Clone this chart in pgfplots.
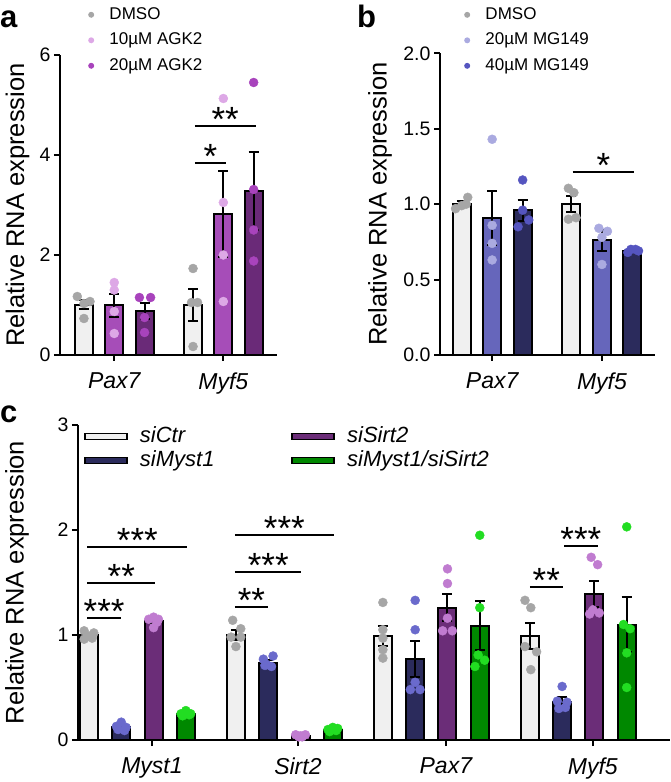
\documentclass[border=0pt]{standalone}
\usepackage{pgfplots}
\pgfplotsset{compat=1.18}
\usepackage{fontspec}
\setmainfont{Liberation Sans}
\definecolor{ctrfill}{HTML}{F0F0F0}
\definecolor{ctrpt}{HTML}{A6A6A6}
\definecolor{agkAbar}{HTML}{A64DB8}
\definecolor{agkApt}{HTML}{DDA8E6}
\definecolor{agkBbar}{HTML}{6A2A78}
\definecolor{agkBpt}{HTML}{A843BC}
\definecolor{mgAbar}{HTML}{6666BB}
\definecolor{mgApt}{HTML}{AAAAE0}
\definecolor{mgBbar}{HTML}{2B2B5C}
\definecolor{mgBpt}{HTML}{5555C0}
\definecolor{myBar}{HTML}{2B2B5C}
\definecolor{myPt}{HTML}{6A6ACC}
\definecolor{siBar}{HTML}{6B2D78}
\definecolor{siPt}{HTML}{C07CD0}
\definecolor{dbBar}{HTML}{008800}
\definecolor{dbPt}{HTML}{22DD22}
\tikzset{
  sigline/.style={line width=2pt, black},
  star/.style={font=\fontsize{35}{35}\selectfont, anchor=base, inner sep=0pt, yshift=-5.5pt},
}
\pgfplotsset{
  panel/.style={
    scale only axis,
    axis lines=left,
    axis line style={-, line width=2pt, black},
    tick style={line width=2pt, black},
    major tick length=6pt,
    tick align=outside,
    /pgf/number format/assume math mode=true,
    yticklabel style={font=\fontsize{19.5}{22}\selectfont},
    xticklabel style={font=\fontsize{23}{26}\selectfont\itshape, yshift=-8pt},
    ylabel style={font=\fontsize{25.5}{28}\selectfont},
    ylabel={Relative RNA expression},
    clip=false,
    legend cell align=left,
  },
  dotlegend/.style={
    legend style={anchor=north west, draw=none, fill=none,
      font=\fontsize{17}{20}\selectfont, row sep=4.5pt, inner sep=0pt,
      nodes={inner xsep=1pt, inner ysep=2pt, text height=13pt, text depth=4pt}},
    legend image code/.code={\fill[draw=none] (0pt,0pt) circle (3pt); \path[draw=none, fill=none] (-3pt,0pt) -- (17.3pt,0pt);},
  },
  swatchA/.style={legend image code/.code={\draw[draw=black, line width=1.5pt] (0pt,-3pt) rectangle (42pt,3pt); \path[draw=none, fill=none] (0pt,0pt) -- (54pt,0pt);}},
  swatchB/.style={legend image code/.code={\path[draw=none, fill=none] (-76.7pt,0pt) -- (0pt,0pt); \draw[draw=black, line width=1.5pt] (0pt,-3pt) rectangle (42pt,3pt); \path[draw=none, fill=none] (0pt,0pt) -- (54pt,0pt);}},
  barstyle/.style={ybar, bar width=18pt, bar shift=0pt, draw=black, line width=2pt, fill=#1, forget plot},
  ptstyle/.style={only marks, mark=*, mark size=4.5pt, color=#1, mark options={draw=#1, fill=#1}, forget plot},
  errstyle/.style={forget plot, draw=none, mark=none, error bars/.cd, y dir=both, y explicit,
    error bar style={draw=black, line width=2pt}, error mark options={draw=black, line width=2pt, mark size=5pt, rotate=90}},
}
\begin{document}
\begin{tikzpicture}
\path[use as bounding box] (0pt,0pt) rectangle (670pt,782pt);
\node[anchor=base west, font=\bfseries\fontsize{31}{31}\selectfont, inner sep=0pt] at (0pt,754pt) {a};
\node[anchor=base west, font=\bfseries\fontsize{31}{31}\selectfont, inner sep=0pt] at (357pt,754pt) {b};
\node[anchor=base west, font=\bfseries\fontsize{31}{31}\selectfont, inner sep=0pt] at (0pt,359pt) {c};

% ---------------- panel a
\begin{axis}[panel, dotlegend, at={(60pt,427pt)}, anchor=south west,
  width=217pt, height=300pt,
  xmin=-0.79, xmax=6.37, ymin=0, ymax=6,
  ytick={0,2,4,6}, xtick={1,4.6}, xticklabels={Pax7,Myf5},
  ylabel style={at={(axis description cs:-0.196,0.5)}, anchor=center},
  legend style={at={(axis description cs:0.129,1.1697)}},
]
\addlegendimage{fill=ctrpt}\addlegendentry{DMSO}
\addlegendimage{fill=agkApt}\addlegendentry{10µM AGK2}
\addlegendimage{fill=agkBpt}\addlegendentry{20µM AGK2}
\addplot[barstyle=ctrfill] coordinates {(0,1.0) (3.6,0.99)};
\addplot[barstyle=agkAbar] coordinates {(1,0.99) (4.6,2.82)};
\addplot[barstyle=agkBbar] coordinates {(2,0.88) (5.6,3.28)};
\addplot[ptstyle=ctrpt] coordinates {(-0.22,1.17) (0.2,1.07) (0,1.03) (0,0.73) (3.6,1.73) (3.55,1.05) (3.75,1.05) (3.6,0.17)};
\addplot[ptstyle=agkApt] coordinates {(1,1.45) (1,1.3) (1,0.87) (1,0.43) (4.6,5.13) (4.6,3.05) (4.6,2.0) (4.6,1.07)};
\addplot[ptstyle=agkBpt] coordinates {(1.83,1.15) (2.2,1.15) (2,0.75) (2,0.45) (5.6,5.45) (5.6,3.31) (5.6,2.5) (5.6,1.88)};
\addplot[errstyle] coordinates {(0,1.0) +- (0,0.09) (1,0.99) +- (0,0.23) (2,0.88) +- (0,0.16)
  (3.6,0.99) +- (0,0.32) (4.6,2.82) +- (0,0.86) (5.6,3.28) +- (0,0.78)};
\draw[sigline] (axis cs:3.66,3.83) -- (axis cs:4.69,3.83);
\node[star] at (axis cs:4.17,3.83) {*};
\draw[sigline] (axis cs:3.66,4.58) -- (axis cs:5.67,4.58);
\node[star] at (axis cs:4.66,4.58) {**};
\end{axis}

% ---------------- panel b
\begin{axis}[panel, dotlegend, at={(440pt,427pt)}, anchor=south west,
  width=215pt, height=301.7pt,
  xmin=-0.71, xmax=6.34, ymin=0, ymax=2,
  ytick={0,0.5,1,1.5,2}, xtick={1,4.6}, xticklabels={Pax7,Myf5},
  yticklabel style={/pgf/number format/.cd, fixed, fixed zerofill, precision=1},
  ylabel style={at={(axis description cs:-0.279,0.5)}, anchor=center},
  legend style={at={(axis description cs:0.1116,1.163)}},
]
\addlegendimage{fill=ctrpt}\addlegendentry{DMSO}
\addlegendimage{fill=mgApt}\addlegendentry{20µM MG149}
\addlegendimage{fill=mgBpt}\addlegendentry{40µM MG149}
\addplot[barstyle=ctrfill] coordinates {(0,1.0) (3.6,1.0)};
\addplot[barstyle=mgAbar] coordinates {(1,0.91) (4.6,0.76)};
\addplot[barstyle=mgBbar] coordinates {(2,0.96) (5.6,0.69)};
\addplot[ptstyle=ctrpt] coordinates {(-0.2,0.97) (0.15,1.0) (0.2,1.045) (0,0.99) (3.5,1.105) (3.68,1.076) (3.5,0.9) (3.75,0.91)};
\addplot[ptstyle=mgApt] coordinates {(1,1.43) (1,0.86) (1,0.74) (1,0.63) (4.5,0.84) (4.78,0.82) (4.6,0.78) (4.6,0.6)};
\addplot[ptstyle=mgBpt] coordinates {(2,1.16) (1.85,0.85) (2.2,0.895) (2,0.96) (5.45,0.68) (5.55,0.7) (5.7,0.7) (5.8,0.69)};
\addplot[errstyle] coordinates {(0,1.0) +- (0,0.02) (1,0.91) +- (0,0.18) (2,0.96) +- (0,0.07)
  (3.6,1.0) +- (0,0.055) (4.6,0.76) +- (0,0.07) (5.6,0.69) +- (0,0.01)};
\draw[sigline] (axis cs:3.64,1.215) -- (axis cs:5.65,1.215);
\node[star] at (axis cs:4.65,1.215) {*};
\end{axis}

% ---------------- panel c
\begin{axis}[panel, at={(78pt,42pt)}, anchor=south west,
  width=592pt, height=315pt,
  xmin=-0.34, xmax=17.99, ymin=0, ymax=3,
  ytick={0,1,2,3}, xtick={1.95,6.47,11.05,15.6}, xticklabels={Myst1,Sirt2,Pax7,Myf5},
  ylabel style={at={(axis description cs:-0.103,0.5)}, anchor=center},
  legend columns=2,
  legend style={at={(axis description cs:0.0101,1.0)}, anchor=north west, draw=none, fill=none,
    font=\fontsize{22}{24}\selectfont\itshape, row sep=1pt, inner sep=0pt,
    nodes={inner xsep=1pt, inner ysep=1pt, text height=16pt, text depth=5pt}},
]
\addlegendimage{swatchA, fill=ctrfill}\addlegendentry{siCtr}
\addlegendimage{swatchB, fill=siBar}\addlegendentry{siSirt2}
\addlegendimage{swatchA, fill=myBar}\addlegendentry{siMyst1}
\addlegendimage{swatchB, fill=dbBar}\addlegendentry{siMyst1/siSirt2}
\addplot[barstyle=ctrfill] coordinates {(0,1.0) (4.55,1.0) (9.1,0.99) (13.65,0.99)};
\addplot[barstyle=myBar] coordinates {(1,0.12) (5.55,0.73) (10.1,0.77) (14.65,0.36)};
\addplot[barstyle=siBar] coordinates {(2,1.13) (6.55,0.04) (11.1,1.26) (15.65,1.39)};
\addplot[barstyle=dbBar] coordinates {(3,0.25) (7.55,0.10) (12.1,1.09) (16.65,1.10)};
\addplot[ptstyle=ctrpt] coordinates {(-0.15,1.04) (0.15,1.02) (0,0.99) (-0.15,0.96) (0.1,0.97)
  (4.45,1.14) (4.7,1.06) (4.4,0.98) (4.7,0.98) (4.55,0.89)
  (9.1,1.31) (9.1,1.05) (9.1,0.97) (9.1,0.86) (9.1,0.78)
  (13.5,1.33) (13.68,1.26) (13.5,0.89) (13.86,0.84) (13.68,0.67)};
\addplot[ptstyle=myPt] coordinates {(1,0.17) (0.85,0.13) (1.15,0.12) (0.9,0.1) (1.1,0.09)
  (5.4,0.77) (5.7,0.8) (5.5,0.72) (5.65,0.7) (5.45,0.71)
  (10.1,1.33) (10.1,1.05) (10.1,0.55) (9.95,0.48) (10.25,0.48)
  (14.65,0.51) (14.5,0.37) (14.8,0.36) (14.55,0.3) (14.75,0.31)};
\addplot[ptstyle=siPt] coordinates {(1.85,1.15) (2.15,1.15) (2,1.17) (2,1.07) (2.1,1.12)
  (6.4,0.05) (6.7,0.05) (6.5,0.03) (6.6,0.03) (6.55,0.04)
  (11.1,1.63) (11.1,1.49) (11.1,1.16) (10.95,1.04) (11.25,1.04)
  (15.55,1.74) (15.75,1.67) (15.6,1.24) (15.8,1.21) (15.5,1.2)};
\addplot[ptstyle=dbPt] coordinates {(2.85,0.25) (3.15,0.25) (3,0.28) (2.9,0.23) (3.1,0.24)
  (7.4,0.1) (7.7,0.11) (7.55,0.12) (7.45,0.08) (7.65,0.09)
  (12.1,1.95) (12.1,1.26) (12.05,0.81) (12.25,0.76) (11.95,0.7)
  (16.65,2.03) (16.55,1.1) (16.75,1.06) (16.65,0.83) (16.65,0.5)};
\addplot[errstyle] coordinates {(0,1.0) +- (0,0.02) (1,0.12) +- (0,0.02) (2,1.13) +- (0,0.02) (3,0.25) +- (0,0.01)
  (4.55,1.0) +- (0,0.05) (5.55,0.73) +- (0,0.03) (6.55,0.04) +- (0,0.01) (7.55,0.10) +- (0,0.01)
  (9.1,0.99) +- (0,0.095) (10.1,0.77) +- (0,0.17) (11.1,1.26) +- (0,0.13) (12.1,1.09) +- (0,0.23)
  (13.65,0.99) +- (0,0.125) (14.65,0.36) +- (0,0.045) (15.65,1.39) +- (0,0.125) (16.65,1.10) +- (0,0.26)};
\draw[sigline] (axis cs:-0.05,1.16) -- (axis cs:1.0,1.16);
\node[star] at (axis cs:0.47,1.16) {***};
\draw[sigline] (axis cs:-0.05,1.50) -- (axis cs:2.05,1.50);
\node[star] at (axis cs:1.0,1.50) {**};
\draw[sigline] (axis cs:-0.05,1.84) -- (axis cs:3.05,1.84);
\node[star] at (axis cs:1.5,1.84) {***};
\draw[sigline] (axis cs:4.52,1.27) -- (axis cs:5.55,1.27);
\node[star] at (axis cs:5.03,1.27) {**};
\draw[sigline] (axis cs:4.52,1.603) -- (axis cs:6.58,1.603);
\node[star] at (axis cs:5.55,1.603) {***};
\draw[sigline] (axis cs:4.52,1.95) -- (axis cs:7.59,1.95);
\node[star] at (axis cs:6.05,1.95) {***};
\draw[sigline] (axis cs:13.65,1.454) -- (axis cs:14.68,1.454);
\node[star] at (axis cs:14.16,1.454) {**};
\draw[sigline] (axis cs:14.72,1.848) -- (axis cs:15.75,1.848);
\node[star] at (axis cs:15.23,1.848) {***};
\end{axis}
\end{tikzpicture}
\end{document}
